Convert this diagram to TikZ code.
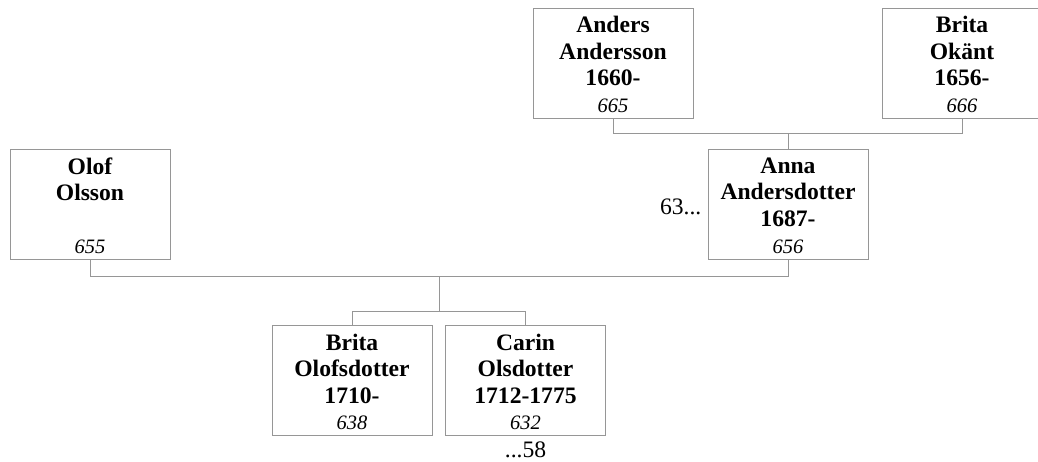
\documentclass[tikz,border=0pt]{standalone}
\usepackage{fontspec}
\setmainfont{Liberation Serif}
\usetikzlibrary{positioning}
\definecolor{linegray}{RGB}{150,150,150}
\tikzset{
  person/.style={draw=linegray, line width=1pt, minimum width=160pt, minimum height=110pt, inner sep=0pt},
  pname/.style={font=\bfseries\fontsize{23.6}{26.6}\selectfont, align=center, anchor=north, inner sep=0pt},
  pnum/.style={font=\itshape\fontsize{20.5}{22}\selectfont, anchor=base, inner sep=0pt},
  more/.style={font=\fontsize{23.6}{26}\selectfont, inner sep=0pt},
  link/.style={draw=linegray, line width=1pt}
}
\begin{document}
\begin{tikzpicture}[x=1pt, y=-1pt]
        \useasboundingbox (0, 0) rectangle (1038, 461); % page size
        \clip (0, 0) rectangle (1038, 461);
        % grandparents
        \node[person] (anders) at (613, 63) {};
        \node[pname] (andersname) at ([yshift=-8.5]anders.north) {Anders\\Andersson\\1660-};
        \node[pnum] (andersnum) at ([yshift=6.5]anders.south) {665};
        \node[person] (brita) at (962, 63) {};
        \node[pname] (britaname) at ([yshift=-8.5]brita.north) {Brita\\Okänt\\1656-};
        \node[pnum] (britanum) at ([yshift=6.5]brita.south) {666};
        % parents
        \node[person] (olof) at (90, 204.5) {};
        \node[pname] (olofname) at ([yshift=-8.5]olof.north) {Olof\\Olsson};
        \node[pnum] (olofnum) at ([yshift=6.5]olof.south) {655};
        \node[person] (anna) at (788, 204.5) {};
        \node[pname] (annaname) at ([yshift=-8.5]anna.north) {Anna\\Andersdotter\\1687-};
        \node[pnum] (annanum) at ([yshift=6.5]anna.south) {656};
        \node[more, anchor=base east] (annamore) at ([xshift=-6,yshift=-9.5]anna.west) {63...};
        % children
        \node[person] (britaol) at (352, 380.5) {};
        \node[pname] (britaolname) at ([yshift=-8.5]britaol.north) {Brita\\Olofsdotter\\1710-};
        \node[pnum] (britaolnum) at ([yshift=6.5]britaol.south) {638};
        \node[person] (carin) at (525.5, 380.5) {};
        \node[pname] (carinname) at ([yshift=-8.5]carin.north) {Carin\\Olsdotter\\1712-1775};
        \node[pnum] (carinnum) at ([yshift=6.5]carin.south) {632};
        \node[more, anchor=base] (carinmore) at ([yshift=-21]carin.south) {...58};
        % connectors
        \draw[link] (anders.south) -- ++(0, 15) coordinate (gp) -| (brita.south);
        \draw[link] (anna.north) -- (anna.north |- gp);
        \draw[link] (olof.south) -- ++(0, 16) coordinate (pp) -| (anna.south);
        \draw[link] (439, 0 |- pp) -- ++(0, 35) coordinate (cc);
        \draw[link] (britaol.north) |- (carin.north |- cc) -- (carin.north);
\end{tikzpicture}
\end{document}
